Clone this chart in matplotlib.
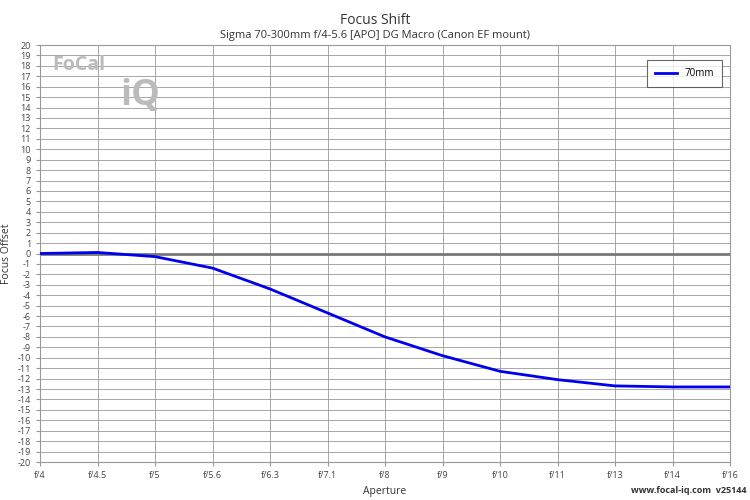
import matplotlib
matplotlib.use("Agg")
import matplotlib.pyplot as plt

apertures = ["f/4","f/4.5","f/5","f/5.6","f/6.3","f/7.1","f/8","f/9","f/10","f/11","f/13","f/14","f/16"]
offset_70mm = [0, 0.1, -0.3, -1.4, -3.4, -5.7, -8.0, -9.8, -11.3, -12.1, -12.7, -12.8, -12.8]

plt.rcParams['font.family'] = ['Open Sans', 'DejaVu Sans']
fig = plt.figure(figsize=(7.5, 5), dpi=100)
ax = fig.add_axes([40/750, 38/500, 690/750, 417/500])
x = list(range(len(apertures)))
ax.axhline(0, color='#777777', lw=2, zorder=2)
ax.plot(x, offset_70mm, color='#0000ee', lw=2, zorder=3, label='70mm')
ax.set_xlim(0, len(apertures)-1)
ax.set_ylim(-20, 20)
ax.set_xticks(x)
ax.set_xticklabels(apertures, fontsize=6.5, color='#444444')
ax.set_yticks(range(-20, 21))
ax.set_yticklabels([str(v) for v in range(-20, 21)], fontsize=6.5, color='#444444')
ax.grid(True, color='#999999', lw=0.6)
ax.tick_params(length=3, color='#999999')
for s in ax.spines.values():
    s.set_color('#999999')
ax.set_xlabel('Aperture', fontsize=7.5, color='#333333', labelpad=4)
ax.set_ylabel('Focus Offset', fontsize=7.5, color='#333333', labelpad=4)
fig.text(0.5, 0.975, 'Focus Shift', ha='center', va='top', fontsize=10, color='#333333')
fig.text(0.5, 0.94, 'Sigma 70-300mm f/4-5.6 [APO] DG Macro (Canon EF mount)', ha='center', va='top', fontsize=8, color='#333333')
leg = ax.legend(loc='upper right', bbox_to_anchor=(0.995, 0.975), fontsize=7, fancybox=False, edgecolor='#444444', handlelength=2.2, borderpad=0.8)
leg.get_frame().set_linewidth(0.8)
fig.text(0.995, 0.01, 'www.focal-iq.com  v25144', ha='right', va='bottom', fontsize=6.5, color='#333333', fontweight='bold')
fig.text(0.07, 0.86, 'FoCal', fontsize=14, color='#bbbbbb', fontweight='bold')
fig.text(0.16, 0.79, 'iQ', fontsize=26, color='#bbbbbb', fontweight='bold')
fig.savefig('out.png', dpi=100)
